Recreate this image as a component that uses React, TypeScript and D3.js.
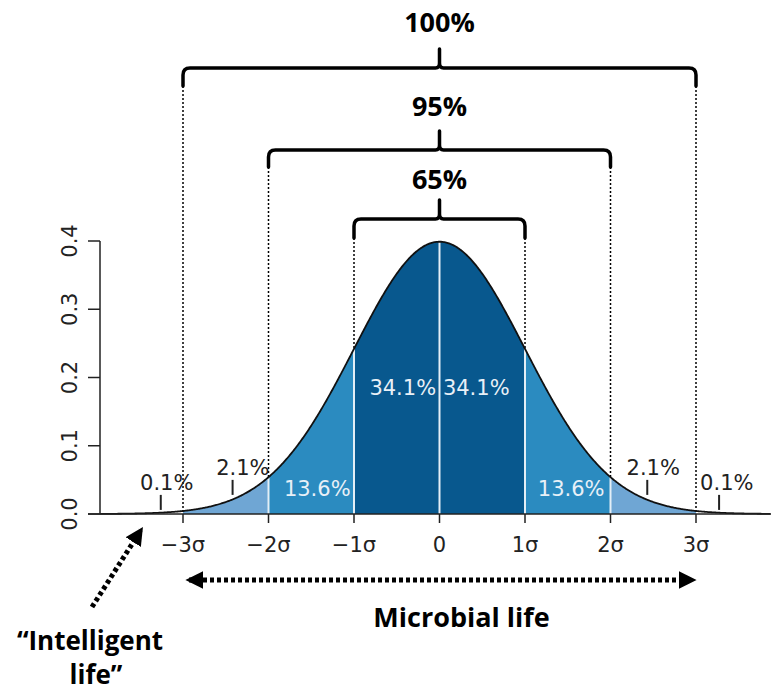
import React from 'react';
import * as d3 from 'd3';

// sigma ticks on the x axis
const sigmaTicks = [-3, -2, -1, 0, 1, 2, 3];
const sigmaLabels = ['\u22123\u03c3', '\u22122\u03c3', '\u22121\u03c3', '0', '1\u03c3', '2\u03c3', '3\u03c3'];
const densityTicks = [0, 0.1, 0.2, 0.3, 0.4];

// shaded bands under the curve
const bandFrom = [-3, -2, -1, 1, 2];
const bandTo = [-2, -1, 1, 2, 3];
const bandColors = ['#6fa6d4', '#2b8bc0', '#08588e', '#2b8bc0', '#6fa6d4'];

// percentage labels (sigma, density)
const pctLabels = ['0.1%', '2.1%', '13.6%', '34.1%', '34.1%', '13.6%', '2.1%', '0.1%'];
const pctX = [-3.19, -2.3, -1.43, -0.43, 0.43, 1.54, 2.5, 3.36];
const pctY = [0.035, 0.057, 0.026, 0.174, 0.174, 0.026, 0.057, 0.035];
const pctLight = [false, false, true, true, true, true, false, false];

// little pointer ticks under the tail labels
const pointerX = [-3.26, -2.42, 2.43, 3.27];
const pointerLo = [0.006, 0.028, 0.028, 0.006];
const pointerHi = [0.028, 0.05, 0.05, 0.028];

// brackets
const bracketLabels = ['100%', '95%', '65%'];
const bracketSigma = [3, 2, 1];

const pdf = (z: number) => Math.exp(-z * z / 2) / Math.sqrt(2 * Math.PI);

const App: React.FC = () => {
  const W = 771, H = 692;
  const x = d3.scaleLinear().domain([-3, 3]).range([183, 696]);
  const y = d3.scaleLinear().domain([0, 0.4]).range([514, 241]);

  const zs = d3.range(x.invert(100), x.invert(771) + 0.001, 0.01);
  const curve = d3.line<number>().x(z => x(z)).y(z => y(pdf(z)));
  const area = d3.area<number>().x(z => x(z)).y0(y(0)).y1(z => y(pdf(z)));

  const bracketY = [68, 150, 219];
  const tipY = [86, 167, 238];
  const spikeY = [49, 131, 200];
  const labelY = [32, 116, 189];

  const bracePath = (x0: number, x1: number, yh: number, yt: number, ys: number) => {
    const xc = (x0 + x1) / 2, r = 7;
    return `M${x0},${yt} L${x0},${yh + r} Q${x0},${yh} ${x0 + r},${yh} L${xc - 4},${yh} Q${xc},${yh} ${xc},${yh - 5} L${xc},${ys}` +
      ` M${xc},${yh - 5} Q${xc},${yh} ${xc + 4},${yh} L${x1 - r},${yh} Q${x1},${yh} ${x1},${yh + r} L${x1},${yt}`;
  };

  const boldFont = "'Open Sans', 'Liberation Sans', sans-serif";
  const axisFont = "'DejaVu Sans', sans-serif";

  return (
    <svg width={W} height={H} style={{ position: 'absolute', left: 0, top: 0, background: '#fff' }}>
      <defs>
        <marker id="head" viewBox="0 0 10 10" refX="8" refY="5" markerWidth="3.6" markerHeight="3.6" orient="auto-start-reverse" markerUnits="strokeWidth">
          <path d="M0,0 L10,5 L0,10 z" fill="#000" />
        </marker>
      </defs>

      {/* bands */}
      {bandFrom.map((a, i) => (
        <path key={'b' + i} d={area(d3.range(a, bandTo[i] + 0.0001, 0.01)) || ''} fill={bandColors[i]} />
      ))}

      {/* white separators */}
      {[-2, -1, 0, 1, 2].map(z => (
        <line key={'w' + z} x1={x(z)} x2={x(z)} y1={y(0)} y2={y(pdf(z))} stroke="#e4eef6" strokeWidth={2} />
      ))}

      {/* dotted guides from brackets */}
      {bracketSigma.map((s, i) => [-s, s].map(z => (
        <line key={'d' + i + z} x1={x(z)} x2={x(z)} y1={tipY[i]} y2={s === 3 ? y(0) : y(pdf(z))}
          stroke="#000" strokeWidth={1.5} strokeDasharray="2,2" />
      )))}

      {/* curve */}
      <path d={curve(zs) || ''} fill="none" stroke="#111" strokeWidth={1.8} />

      {/* axes */}
      <line x1={88} x2={771} y1={y(0)} y2={y(0)} stroke="#222" strokeWidth={1.5} />
      <line x1={100} x2={100} y1={y(0)} y2={y(0.4)} stroke="#222" strokeWidth={1.5} />
      {densityTicks.map(t => (
        <g key={'yt' + t}>
          <line x1={88} x2={100} y1={y(t)} y2={y(t)} stroke="#222" strokeWidth={1.5} />
          <text transform={`translate(77,${y(t)}) rotate(-90)`} textAnchor="middle" fontFamily={axisFont} fontSize={21} fill="#222">
            {t.toFixed(1)}
          </text>
        </g>
      ))}
      {sigmaTicks.map((t, i) => (
        <g key={'xt' + t}>
          <line x1={x(t)} x2={x(t)} y1={y(0)} y2={y(0) + 9} stroke="#222" strokeWidth={1.5} />
          <text x={x(t)} y={552} textAnchor="middle" fontFamily={axisFont} fontSize={21} fill="#222">{sigmaLabels[i]}</text>
        </g>
      ))}

      {/* pointers */}
      {pointerX.map((p, i) => (
        <line key={'p' + i} x1={x(p)} x2={x(p)} y1={y(pointerLo[i])} y2={y(pointerHi[i])} stroke="#222" strokeWidth={2} />
      ))}

      {/* percentages */}
      {pctLabels.map((l, i) => (
        <text key={'l' + i} x={x(pctX[i])} y={y(pctY[i])} textAnchor="middle" fontFamily={axisFont} fontSize={21}
          fill={pctLight[i] ? '#e8f0f7' : '#222'}>{l}</text>
      ))}

      {/* brackets */}
      {bracketSigma.map((s, i) => (
        <g key={'br' + i}>
          <path d={bracePath(x(-s), x(s), bracketY[i], tipY[i], spikeY[i])} fill="none" stroke="#000" strokeWidth={3.5} strokeLinecap="round" strokeLinejoin="round" />
          <text x={x(0)} y={labelY[i]} textAnchor="middle" fontFamily={boldFont} fontWeight={700} fontSize={27}>{bracketLabels[i]}</text>
        </g>
      ))}

      {/* microbial life arrow */}
      <line x1={x(-3) + 6} x2={x(3) - 3} y1={580} y2={580} stroke="#000" strokeWidth={5} strokeDasharray="4,3"
        markerStart="url(#head)" markerEnd="url(#head)" />
      <text x={x(0) + 22} y={627} textAnchor="middle" fontFamily={boldFont} fontWeight={700} fontSize={27}>Microbial life</text>

      {/* intelligent life arrow */}
      <line x1={92} x2={141} y1={607} y2={530} stroke="#000" strokeWidth={5} strokeDasharray="4,3" markerEnd="url(#head)" />
      <text x={90} y={650} textAnchor="middle" fontFamily={boldFont} fontWeight={700} fontSize={26}>{'\u201cIntelligent'}</text>
      <text x={96} y={684} textAnchor="middle" fontFamily={boldFont} fontWeight={700} fontSize={26}>{'life\u201d'}</text>
    </svg>
  );
};

export default App;
